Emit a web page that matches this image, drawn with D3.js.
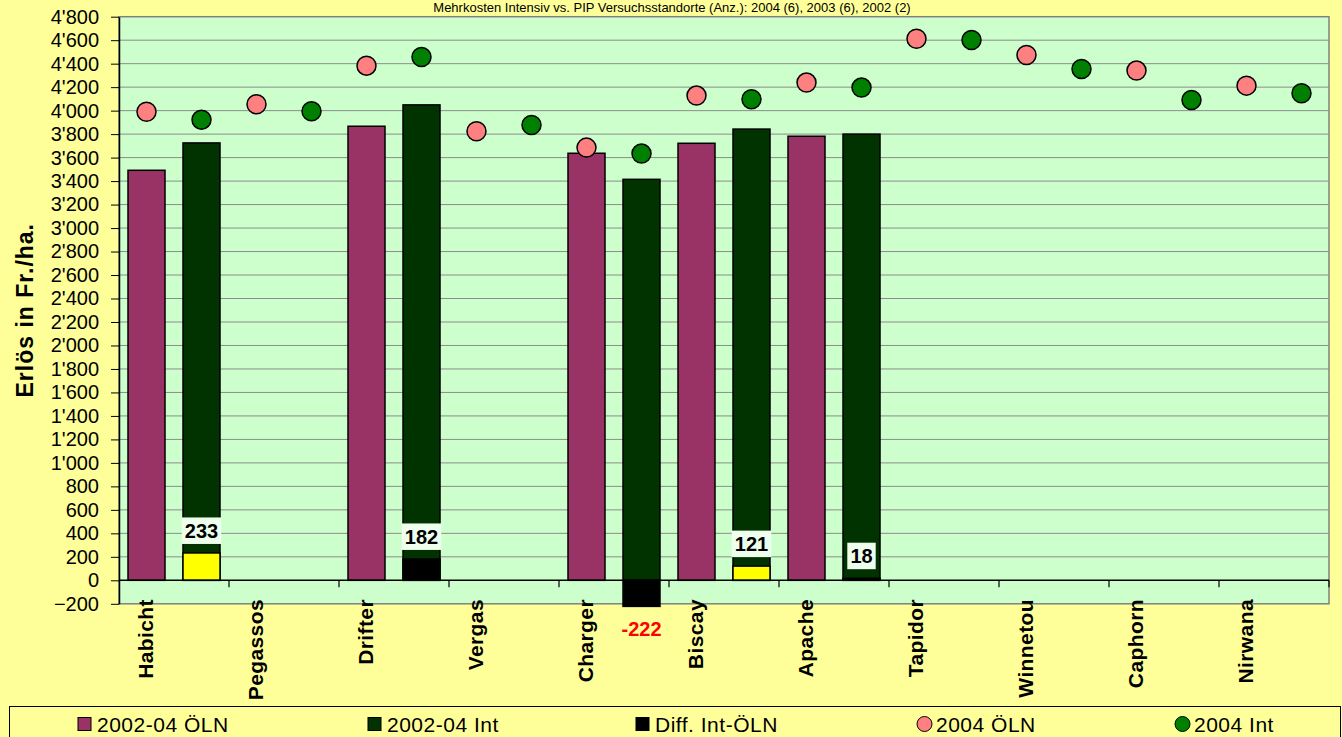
<!DOCTYPE html>
<html lang="de">
<head>
    <meta charset="UTF-8">
    <script src="https://d3js.org/d3.v7.min.js"></script>
    <style>
        body { margin: 0; background: #ffff99; }
        svg { display: block; font-family: "Liberation Sans", Arial, sans-serif; }
        .grid line { stroke: #8c8c8c; stroke-width: 1px; }
        .yaxis text { font-size: 20px; fill: #000; }
        .yaxis line, .yaxis path { stroke: #000; }
        .cat { font-size: 21px; font-weight: bold; letter-spacing: 0.4px; }
        .lbl { font-size: 20px; font-weight: bold; text-anchor: middle; }
        .legend text { font-size: 21px; letter-spacing: 0.5px; }
    </style>
    <title>Erlös in Fr./ha.</title>
</head>
<body>
<svg id="chart" width="1342" height="737"></svg>
<script>
    // Sorten
    const categories = ["Habicht", "Pegassos", "Drifter", "Vergas", "Charger", "Biscay",
                        "Apache", "Tapidor", "Winnetou", "Caphorn", "Nirwana"];
    // Mittel 2002-04 (nur Sorten mit 3 Jahren)
    const oln0204 = [3492, null, 3867, null, 3637, 3722, 3782, null, null, null, null];
    const int0204 = [3725, null, 4049, null, 3415, 3843, 3800, null, null, null, null];
    const diffIntOln = [233, null, 182, null, -222, 121, 18, null, null, null, null];
    const diffColors = ["#ffff00", null, "#000000", null, "#000000", "#ffff00", "#000000"];
    // Einzeljahr 2004
    const oln2004 = [3990, 4054, 4383, 3824, 3685, 4128, 4239, 4612, 4474, 4341, 4213];
    const int2004 = [3923, 3995, 4457, 3878, 3634, 4097, 4196, 4602, 4355, 4091, 4148];
    const yTicks = d3.range(-200, 4801, 200);

    const svg = d3.select("#chart");
    const plot = { left: 119, right: 1329, top: 16.7, bottom: 603.8 };
    const barW = 37;

    const x = d3.scaleBand().domain(categories).range([plot.left, plot.right]).padding(0);
    const y = d3.scaleLinear().domain([-200, 4800]).range([plot.bottom, plot.top]);
    const bw = x.bandwidth();
    const xO = c => x(c) + bw * 0.25;   // ÖLN position
    const xI = c => x(c) + bw * 0.75;   // Int position
    const fmt = v => d3.format(",")(v).replace(/,/g, "'");

    // title
    svg.append("text")
        .attr("x", 672).attr("y", 12)
        .attr("text-anchor", "middle")
        .attr("font-size", "13px")
        .text("Mehrkosten Intensiv vs. PIP Versuchsstandorte (Anz.): 2004 (6), 2003 (6), 2002 (2)");

    // plot area
    svg.append("rect")
        .attr("x", plot.left).attr("y", plot.top)
        .attr("width", plot.right - plot.left).attr("height", plot.bottom - plot.top)
        .attr("fill", "#ccffcc").attr("stroke", "#808080").attr("stroke-width", 1.5);

    svg.append("g").attr("class", "grid")
        .selectAll("line").data(yTicks.filter(d => d !== 0 && d !== -200 && d !== 4800))
        .enter().append("line")
        .attr("x1", plot.left).attr("x2", plot.right)
        .attr("y1", d => y(d)).attr("y2", d => y(d));

    // y axis
    svg.append("g").attr("class", "yaxis")
        .attr("transform", "translate(" + plot.left + ",0)")
        .call(d3.axisLeft(y).tickValues(yTicks).tickFormat(fmt).tickSize(8).tickSizeOuter(0).tickPadding(12))
        .call(g => g.select(".domain").attr("stroke-width", 1.5))
        .selectAll("text").attr("font-family", "Liberation Sans, Arial, sans-serif").attr("font-size", "20px");

    svg.append("text")
        .attr("transform", "translate(33," + ((plot.top + plot.bottom) / 2) + ") rotate(-90)")
        .attr("text-anchor", "middle")
        .attr("font-size", "23px").attr("font-weight", "bold")
        .attr("letter-spacing", "1px")
        .text("Erlös in Fr./ha.");

    // bars 2002-04 ÖLN
    svg.append("g").selectAll("rect")
        .data(categories.map((c, i) => ({ c, v: oln0204[i] })).filter(d => d.v != null))
        .enter().append("rect")
        .attr("x", d => xO(d.c) - barW / 2).attr("width", barW)
        .attr("y", d => y(d.v)).attr("height", d => y(0) - y(d.v))
        .attr("fill", "#993366").attr("stroke", "#000").attr("stroke-width", 1.5);

    // bars 2002-04 Int
    svg.append("g").selectAll("rect")
        .data(categories.map((c, i) => ({ c, v: int0204[i] })).filter(d => d.v != null))
        .enter().append("rect")
        .attr("x", d => xI(d.c) - barW / 2).attr("width", barW)
        .attr("y", d => y(d.v)).attr("height", d => y(0) - y(d.v))
        .attr("fill", "#003300").attr("stroke", "#000").attr("stroke-width", 1.5);

    // diff bars
    const diffData = categories.map((c, i) => ({ c, v: diffIntOln[i], col: diffColors[i] })).filter(d => d.v != null);
    svg.append("g").selectAll("rect")
        .data(diffData)
        .enter().append("rect")
        .attr("x", d => xI(d.c) - barW / 2).attr("width", barW)
        .attr("y", d => y(Math.max(0, d.v))).attr("height", d => Math.abs(y(d.v) - y(0)))
        .attr("fill", d => d.col).attr("stroke", "#000").attr("stroke-width", 1.5);

    // diff labels
    const lab = svg.append("g");
    diffData.forEach(d => {
        if (d.v >= 0) {
            const bottom = y(d.v) - 9;
            const txt = String(d.v);
            const w = txt.length * 11.2 + 6;
            lab.append("rect")
                .attr("x", xI(d.c) - w / 2).attr("y", bottom - 26.5)
                .attr("width", w).attr("height", 26.5)
                .attr("fill", "#eeffee");
            lab.append("text").attr("class", "lbl")
                .attr("x", xI(d.c)).attr("y", bottom - 6)
                .text(txt);
        } else {
            lab.append("text").attr("class", "lbl")
                .attr("x", xI(d.c)).attr("y", y(d.v) + 30)
                .attr("fill", "#ff0000")
                .text(d.v);
        }
    });

    // x axis at zero
    const xa = svg.append("g");
    xa.append("line")
        .attr("x1", plot.left).attr("x2", plot.right)
        .attr("y1", y(0)).attr("y2", y(0))
        .attr("stroke", "#000").attr("stroke-width", 1.5);
    xa.selectAll(".tk").data(categories.slice(1).concat(["end"]))
        .enter().append("line")
        .attr("x1", (d, i) => plot.left + (i + 1) * bw).attr("x2", (d, i) => plot.left + (i + 1) * bw)
        .attr("y1", y(0)).attr("y2", y(0) + 7)
        .attr("stroke", "#000").attr("stroke-width", 1.2);

    svg.append("g").selectAll("text").data(categories)
        .enter().append("text").attr("class", "cat")
        .attr("transform", d => "translate(" + (xO(d) + 6) + ",599) rotate(-90)")
        .attr("text-anchor", "end")
        .text(d => d);

    // 2004 dots
    svg.append("g").selectAll("circle")
        .data(categories.map((c, i) => ({ c, v: oln2004[i] })))
        .enter().append("circle")
        .attr("cx", d => xO(d.c)).attr("cy", d => y(d.v)).attr("r", 9.5)
        .attr("fill", "#ff8080").attr("stroke", "#000").attr("stroke-width", 1.5);
    svg.append("g").selectAll("circle")
        .data(categories.map((c, i) => ({ c, v: int2004[i] })))
        .enter().append("circle")
        .attr("cx", d => xI(d.c)).attr("cy", d => y(d.v)).attr("r", 9.5)
        .attr("fill", "#008000").attr("stroke", "#000").attr("stroke-width", 1.5);

    // legend
    const legend = svg.append("g").attr("class", "legend");
    legend.append("rect")
        .attr("x", 9.5).attr("y", 706.5).attr("width", 1331).attr("height", 40)
        .attr("fill", "none").attr("stroke", "#000").attr("stroke-width", 1);
    const items = [
        { name: "2002-04 ÖLN", fill: "#993366", shape: "sq", x: 78 },
        { name: "2002-04 Int", fill: "#003300", shape: "sq", x: 368 },
        { name: "Diff. Int-ÖLN", fill: "#000000", shape: "sq", x: 636 },
        { name: "2004 ÖLN", fill: "#ff8080", shape: "ci", x: 917 },
        { name: "2004 Int", fill: "#008000", shape: "ci", x: 1175 }
    ];
    items.forEach(it => {
        if (it.shape === "sq") {
            legend.append("rect").attr("x", it.x).attr("y", 717.5).attr("width", 13).attr("height", 13)
                .attr("fill", it.fill).attr("stroke", "#000").attr("stroke-width", 1);
        } else {
            legend.append("circle").attr("cx", it.x + 7.5).attr("cy", 724).attr("r", 7.5)
                .attr("fill", it.fill).attr("stroke", "#000").attr("stroke-width", 1);
        }
        legend.append("text").attr("x", it.x + 19).attr("y", 731.5).text(it.name);
    });
</script>
</body>
</html>
